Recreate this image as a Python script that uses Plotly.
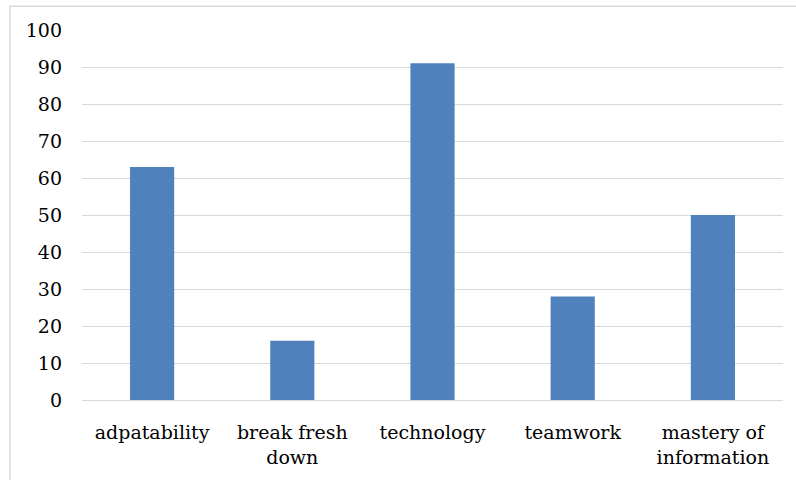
import plotly.graph_objects as go

categories = ["adpatability", "break fresh<br>down", "technology", "teamwork", "mastery of<br>information"]
values = [63, 16, 91, 28, 50]
y_ticks = list(range(0, 101, 10))

SERIF = "DejaVu Serif"

fig = go.Figure(
    go.Bar(
        x=categories,
        y=values,
        marker=dict(color="#4F81BD", line=dict(width=0)),
        width=0.315,
    )
)

# thin outer frame of the chart area
fig.add_shape(
    type="rect", xref="paper", yref="paper",
    x0=-0.1027, x1=1.2, y0=-0.4, y1=1.0645,
    line=dict(color="#d9d9d9", width=1.5), fillcolor="rgba(0,0,0,0)", layer="below",
)

fig.update_layout(
    width=796,
    height=480,
    margin=dict(l=82, r=13, t=30, b=78),
    paper_bgcolor="white",
    plot_bgcolor="white",
    font=dict(family=SERIF, size=19, color="#000000"),
    showlegend=False,
    bargap=0.685,
    xaxis=dict(
        showgrid=False, showline=False, zeroline=False, ticks="",
        tickfont=dict(family=SERIF, size=19), ticklabelstandoff=19,
    ),
    yaxis=dict(
        range=[0, 100], tickvals=y_ticks, showgrid=True, gridcolor="#d9d9d9", gridwidth=1.2,
        zeroline=True, zerolinecolor="#d9d9d9", zerolinewidth=1.2, showline=False,
        ticks="", tickfont=dict(family=SERIF, size=19), ticklabelstandoff=19,
    ),
)

fig.write_html("out.html")
